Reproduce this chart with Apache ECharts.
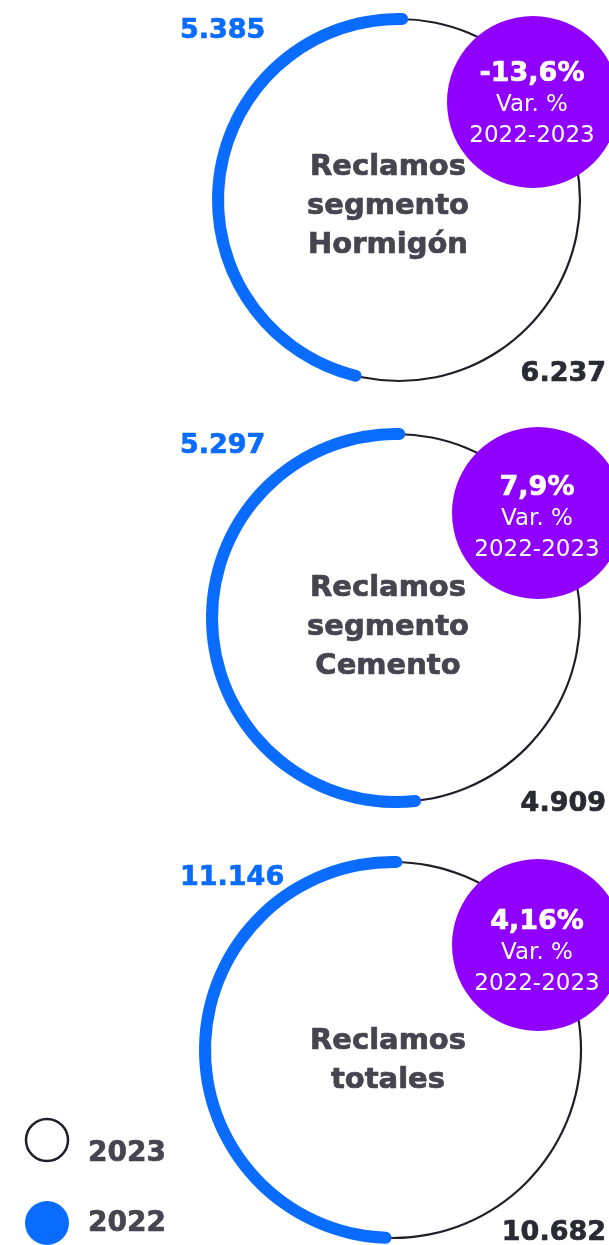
<!DOCTYPE html>
<html>
<head>
<meta charset="utf-8">
<style>
  html, body { margin: 0; padding: 0; background: #fff; }
  #chart { width: 609px; height: 1245px; }
</style>
<script src="https://cdn.jsdelivr.net/npm/echarts@6/dist/echarts.min.js"></script>
</head>
<body>
<div id="chart"></div>
<script>
// datos
const segments = ['Reclamos\nsegmento\nHormigón', 'Reclamos\nsegmento\nCemento', 'Reclamos\ntotales'];
const claims2022 = [5385, 5297, 11146];
const claims2023 = [6237, 4909, 10682];
const variation = ['-13,6%', '7,9%', '4,16%'];
const varLabel = 'Var. %\n2022-2023';
const years = ['2023', '2022'];
// valor que equivale a una vuelta completa del arco azul
const arcMax = [11600, 10200, 22450];

// layout
const ringCenters = [[399, 200], [396, 618], [393, 1050]];
const ringRadius = [181, 184, 188];
const badgeCenters = [[533, 102], [538, 513], [538, 945]];
const badgeRadius = 86;
const badgeTextY = [74, 488, 922];
const topLabelY = [31, 446, 878];
const bottomLabelY = [374, 804, 1233];
const centerLabelY = [206, 627, 1061];

const BLUE = '#0a6cff';
const RING = '#1f1f28';
const PURPLE = '#8f00ff';
const DARK = '#45444f';
const FONT = '"DejaVu Sans", sans-serif';

const fmt = (v) => String(v).replace(/\B(?=(\d{3})+(?!\d))/g, '.');

const hidden = {
  axisLine: { show: false },
  axisTick: { show: false },
  splitLine: { show: false },
  axisLabel: { show: false },
  pointer: { show: false },
  anchor: { show: false },
  title: { show: false },
  detail: { show: false }
};

// texto en negrita algo más grueso (trazo del mismo color)
const boldText = (text, x, y, fill, size, align, extra) => ({
  type: 'text', x: x, y: y, z: 20,
  style: Object.assign({
    text: text, fill: fill, font: 'bold ' + size + 'px ' + FONT,
    stroke: fill, lineWidth: 0.7,
    textAlign: align, textVerticalAlign: 'middle'
  }, extra || {})
});

const series = [];
const graphics = [];

claims2023.forEach((v, i) => {
  const [cx, cy] = ringCenters[i];
  const r = ringRadius[i];
  // anillo 2023
  series.push(Object.assign({}, hidden, {
    name: years[0], type: 'gauge', center: [cx, cy], radius: r + 1.1,
    startAngle: 90, endAngle: -270, min: 0, max: v,
    progress: { show: true, width: 2.2, itemStyle: { color: RING } },
    data: [{ value: v }], silent: true, animation: false, z: 1
  }));
  // arco 2022 (sentido antihorario)
  series.push(Object.assign({}, hidden, {
    name: years[1], type: 'gauge', center: [cx, cy], radius: r + 6,
    startAngle: 89, endAngle: -271, clockwise: false,
    min: 0, max: arcMax[i],
    progress: { show: true, width: 12, roundCap: true, itemStyle: { color: BLUE } },
    data: [{ value: claims2022[i] }], silent: true, animation: false, z: 2
  }));

  // etiquetas de valores
  graphics.push(boldText(fmt(claims2022[i]), 180, topLabelY[i], BLUE, 27, 'left'));
  graphics.push(boldText(fmt(v), 606, bottomLabelY[i], '#2a2a33', 27, 'right'));

  // burbuja de variación
  const [bx, by] = badgeCenters[i];
  graphics.push({
    type: 'circle', z: 10, shape: { cx: bx, cy: by, r: badgeRadius },
    style: { fill: PURPLE }
  });
  graphics.push(Object.assign(boldText(variation[i], bx - 1, badgeTextY[i], '#fff', 27, 'center'), { z: 15 }));
  graphics.push({
    type: 'text', x: bx - 1, y: badgeTextY[i] + 47, z: 15,
    style: { text: varLabel, fill: '#fff', font: '23px ' + FONT, lineHeight: 31,
      textAlign: 'center', textVerticalAlign: 'middle' }
  });
  // texto central (sobre la burbuja)
  graphics.push(boldText(segments[i], 388, centerLabelY[i], DARK, 29, 'center', { lineHeight: 39 }));
});

// leyenda
graphics.push({
  type: 'circle', z: 10, shape: { cx: 47, cy: 1140, r: 21 },
  style: { fill: '#fff', stroke: RING, lineWidth: 2.5 }
});
graphics.push({
  type: 'circle', z: 10, shape: { cx: 47, cy: 1223, r: 22 },
  style: { fill: BLUE }
});
graphics.push(boldText(years[0], 88, 1154, DARK, 28, 'left'));
graphics.push(boldText(years[1], 88, 1224, DARK, 28, 'left'));

const chart = echarts.init(document.getElementById('chart'));
chart.setOption({
  backgroundColor: '#fff',
  animation: false,
  series: series,
  graphic: { elements: graphics }
});
</script>
</body>
</html>
